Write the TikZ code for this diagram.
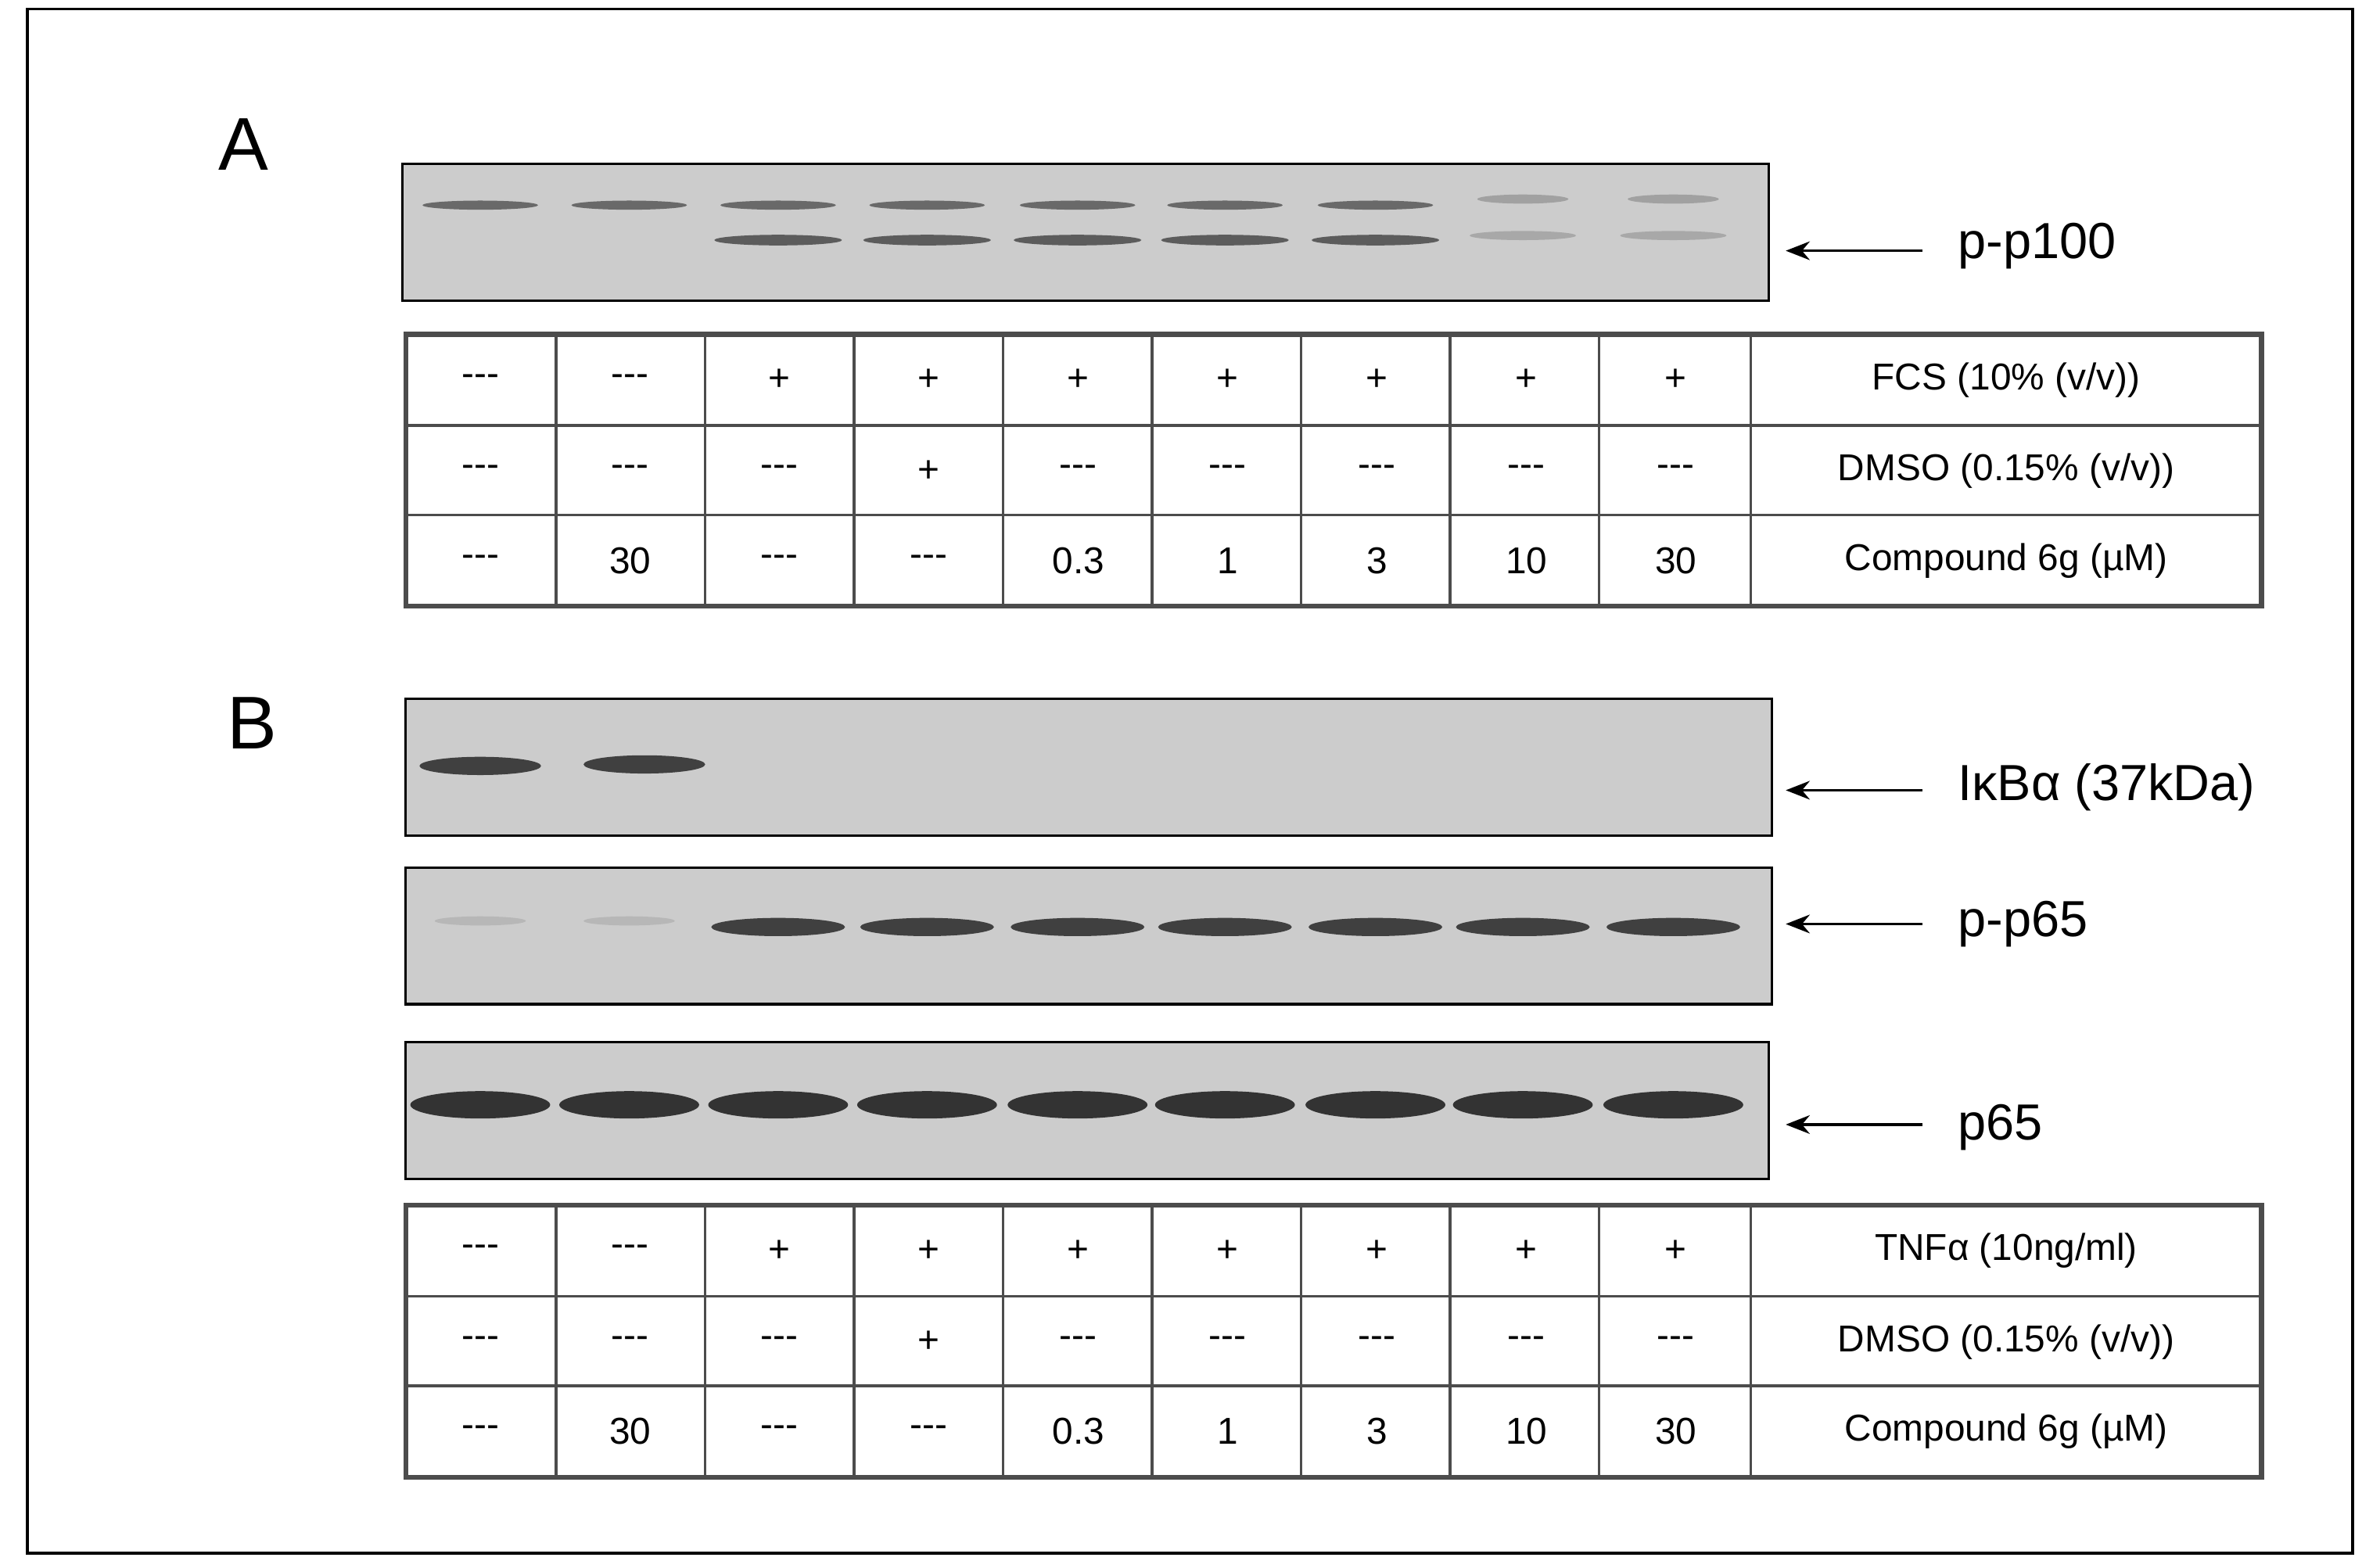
\documentclass[tikz,border=0pt]{standalone}
\usepackage{fontspec}
\setmainfont{Liberation Sans}
\usetikzlibrary{arrows.meta}
\begin{document}
\begin{tikzpicture}[x=0.02cm,y=-0.02cm,
  blot/.style={draw=black,line width=1pt,fill=black!20},
  cell/.style={font=\fontsize{14}{16}\selectfont,inner sep=0pt},
  lbl/.style={font=\fontsize{19}{22}\selectfont,anchor=west,inner sep=0pt},
  panel/.style={font=\fontsize{28}{30}\selectfont,inner sep=0pt},
  arr/.style={-{Stealth[length=9pt,width=7pt]},line width=1pt},
  band/.style={fill=black!75}]
\useasboundingbox (0,0) rectangle (1566,1027);
\fill[white] (0,0) rectangle (1566,1027);
\draw[line width=1pt] (18,6) rectangle (1548,1022);
\node[panel] (pA) at (160,95) {A};
\node[panel] (pB) at (166,476) {B};
\def\lanes{316,414,512,610,709,806,905,1002,1101}
\def\dd{-{}-{}-}
% Blot A
\node[blot,minimum width=899*0.02cm,minimum height=90*0.02cm,anchor=north west,inner sep=0pt] (bA) at (264,107) {};
\foreach \x [count=\i] in \lanes {
  \ifnum\i<8 \fill[band,fill opacity=0.7] (\x,135) ellipse (38 and 3);\else \fill[band,fill opacity=0.3] (\x,131) ellipse (30 and 3);\fi
  \ifnum\i>2 \ifnum\i<8 \fill[band,fill opacity=0.8] (\x,158) ellipse (42 and 3.5);\else \fill[band,fill opacity=0.25] (\x,155) ellipse (35 and 3);\fi\fi
}
\draw[arr] (1265,165) -- (1175,165);
\node[lbl] (lA) at (1288,162) {p-p100};
% Tables
\def\ra{FCS (10\% (v/v))}
\foreach \top [count=\t] in {220,793}{
  \draw[line width=1.8pt,black!70] (267,\top) rectangle (1488,\top+179);
  \foreach \yy in {60,119} \draw[line width=1pt,black!70] (267,\top+\yy) -- (1488,\top+\yy);
  \foreach \xx in {366,464,562,660,758,856,954,1052,1152} \draw[line width=1pt,black!70] (\xx,\top) -- (\xx,\top+179);
  \foreach \v [count=\i] in {\dd,\dd,+,+,+,+,+,+,+} \node[cell] at ({218+98.3*\i},\top+30) {\v};
  \foreach \v [count=\i] in {\dd,\dd,\dd,+,\dd,\dd,\dd,\dd,\dd} \node[cell] at ({218+98.3*\i},\top+90) {\v};
  \foreach \v [count=\i] in {\dd,30,\dd,\dd,0.3,1,3,10,30} \node[cell] at ({218+98.3*\i},\top+149) {\v};
  \node[cell] at (1320,\top+30) {\ifnum\t=1 FCS (10\% (v/v))\else TNFα (10ng/ml)\fi};
  \node[cell] at (1320,\top+90) {DMSO (0.15\% (v/v))};
  \node[cell] at (1320,\top+149) {Compound 6g (µM)};
}
% IkBa blot
\node[blot,minimum width=899*0.02cm,minimum height=90*0.02cm,anchor=north west,inner sep=0pt] (b1) at (266,459) {};
\fill[band] (316,504) ellipse (40 and 6);
\fill[band] (424,503) ellipse (40 and 6);
\draw[arr] (1265,520) -- (1175,520);
\node[lbl] at (1288,518) {IκBα (37kDa)};
% p-p65 blot
\node[blot,minimum width=899*0.02cm,minimum height=90*0.02cm,anchor=north west,inner sep=0pt] (b2) at (266,570) {};
\foreach \x [count=\i] in \lanes {
  \ifnum\i<3 \fill[band,fill opacity=0.15] (\x,606) ellipse (30 and 3);\else \fill[band] (\x,610) ellipse (44 and 6);\fi
}
\draw[arr] (1265,608) -- (1175,608);
\node[lbl] at (1288,608) {p-p65};
% p65 blot
\node[blot,minimum width=897*0.02cm,minimum height=90*0.02cm,anchor=north west,inner sep=0pt] (b3) at (266,685) {};
\foreach \x [count=\i] in \lanes {
  \fill[band,fill=black!80] (\x,727) ellipse (46 and 9);
}
\draw[arr] (1265,740) -- (1175,740);
\node[lbl] at (1288,742) {p65};
\end{tikzpicture}
\end{document}
